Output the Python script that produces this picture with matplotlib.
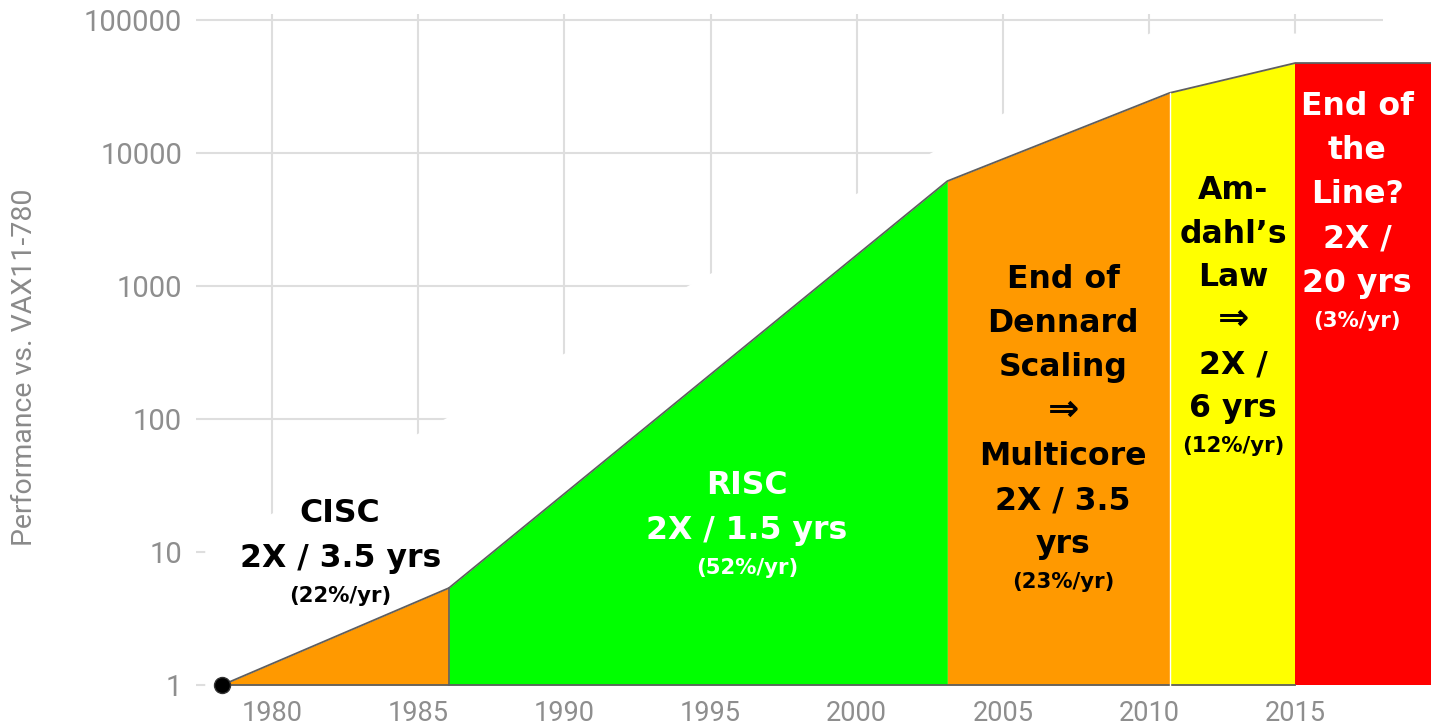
import matplotlib.pyplot as plt
from matplotlib.transforms import offset_copy

# performance curve (relative to VAX11-780)
YEARS = [1978.3, 1986.05, 2003.1, 2010.7, 2015.0, 2019.65]
PERF = [1, 5.36, 6150, 28300, 47500, 47500]
ERA_COLORS = ['#ff9900', '#00ff00', '#ff9900', '#ffff00', '#ff0000']

X_TICKS = [1980, 1985, 1990, 1995, 2000, 2005, 2010, 2015]
Y_TICKS = [1, 10, 100, 1000, 10000, 100000]
Y_TICK_LABELS = ['1', '10', '100', '1000', '10000', '100000']

# white band that hides part of the grid in the original slide
MASK_X = [1977.7, 2010.0, 2018.0]
MASK_Y = [10.4, 79800, 79800]

# era labels: x, first baseline, line pitch (px), lines, small note, colour
ERA_LABELS = [
    (1982.33, 16.81, 45, ['CISC', '2X / 3.5 yrs'], '(22%/yr)', 'black'),
    (1996.25, 27.3, 45, ['RISC', '2X / 1.5 yrs'], '(52%/yr)', 'white'),
    (2007.06, 966, 44.2, ['End of', 'Dennard', 'Scaling', '⇒', 'Multicore',
                          '2X / 3.5', 'yrs'], '(23%/yr)', 'black'),
    (2012.88, 4510, 43.6, ['Am-', 'dahl’s', 'Law', '⇒', '2X /', '6 yrs'],
     '(12%/yr)', 'black'),
    (2017.12, 19300, 44.2, ['End of', 'the', 'Line?', '2X /', '20 yrs'],
     '(3%/yr)', 'white'),
]

W, H = 1431, 725
fig = plt.figure(figsize=(W / 100, H / 100), dpi=100)
ax = fig.add_axes([196 / W, 35 / H, 1187 / W, 676 / H])

ax.set_yscale('log')
ax.set_xlim(1977.4, 2018.0)
ax.set_ylim(0.917, 1.11e5)
ax.minorticks_off()
ax.set_xticks(X_TICKS)
ax.set_yticks(Y_TICKS, labels=Y_TICK_LABELS)
ax.tick_params(length=0, labelcolor='#8e8e8e')
ax.tick_params(axis='y', pad=10, labelsize=21)
ax.tick_params(axis='x', pad=7, labelsize=19.5)
for lab in ax.get_xticklabels() + ax.get_yticklabels():
    lab.set_fontfamily('Roboto')
for s in ax.spines.values():
    s.set_visible(False)

ax.set_axisbelow(True)
ax.grid(True, color='#dedede', lw=1.5)

ax.fill_between(MASK_X, MASK_Y, 0.5, color='white', lw=0, zorder=1)

# coloured eras under the curve
for i, c in enumerate(ERA_COLORS):
    ax.fill_between(YEARS[i:i + 2], PERF[i:i + 2], 1, color=c, lw=0,
                    zorder=2, clip_on=False)

ax.plot(YEARS, PERF, color='#5f5f5f', lw=1.3, zorder=3, clip_on=False)
ax.plot([YEARS[0], YEARS[4]], [1, 1], color='#5f5f5f', lw=1.3, zorder=3)
ax.plot([YEARS[1], YEARS[1]], [1, PERF[1]], color='#5f5f5f', lw=1.2, zorder=3)
ax.plot([YEARS[3], YEARS[3]], [1, PERF[3]], color='white', lw=1, zorder=3)
ax.plot(YEARS[0], PERF[0], 'o', color='black', mec='#333333', ms=11.5,
        zorder=4, clip_on=False)

for x, y, pitch, lines, note, col in ERA_LABELS:
    for k, line in enumerate(lines):
        tr = offset_copy(ax.transData, fig=fig, y=-k * pitch, units='dots')
        size = 27 if line == '⇒' else 22.7
        ax.text(x, y, line, transform=tr, ha='center', va='baseline',
                color=col, fontsize=size, fontweight='bold',
                family='DejaVu Sans', zorder=5)
    tr = offset_copy(ax.transData, fig=fig,
                     y=-(len(lines) - 1) * pitch - 35, units='dots')
    ax.text(x, y, note, transform=tr, ha='center', va='baseline', color=col,
            fontsize=15.3, fontweight='bold', family='DejaVu Sans', zorder=5)

fig.text(25 / W, 1 - 367 / H, 'Performance vs. VAX11-780', rotation=90,
         ha='center', va='center', fontsize=20.5, color='#8a8a8a',
         family='Roboto')

fig.savefig('out.png', dpi=100)
